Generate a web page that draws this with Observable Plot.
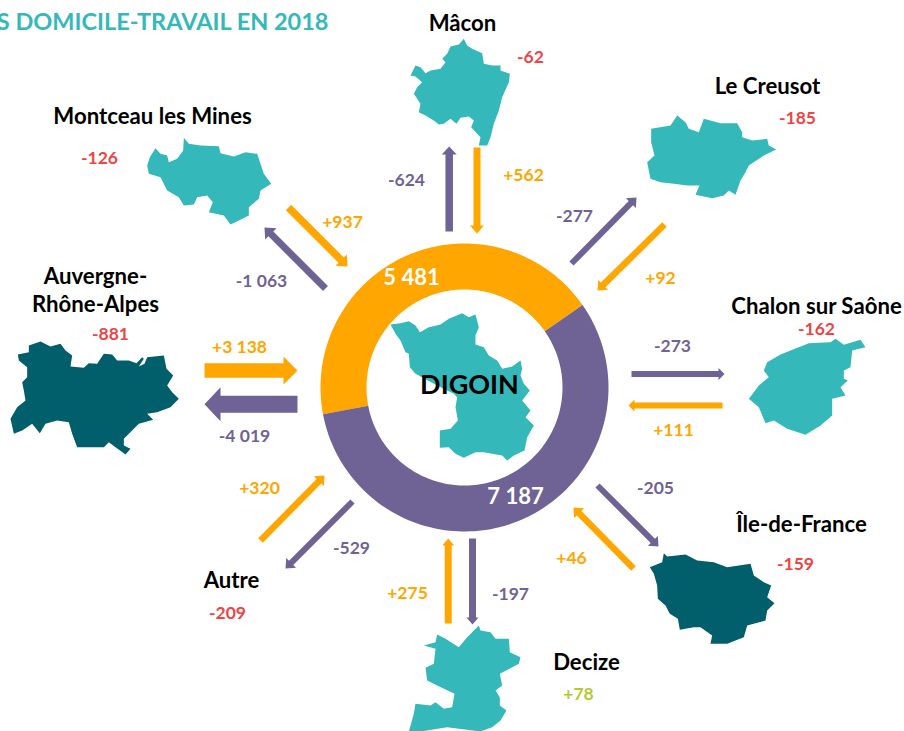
<!DOCTYPE html>
<html>
<head>
<meta charset="utf-8">
<script src="https://cdn.jsdelivr.net/npm/d3@7"></script>
<script src="https://cdn.jsdelivr.net/npm/@observablehq/plot@0.6"></script>
<style>
html,body{margin:0;padding:0;background:#fff;overflow:hidden}
svg{display:block}
</style>
</head>
<body>
<div id="chart"></div>
<script>
// ---- data ----
const titleText = "S DOMICILE-TRAVAIL EN 2018";
const centre = "DIGOIN";
const totalsLabel = ["arrivals", "departures"];
const totals = [5481, 7187];
const places = ["Mâcon", "Le Creusot", "Chalon sur Saône", "Île-de-France", "Decize", "Autre", "Auvergne-Rhône-Alpes", "Montceau les Mines"];
const arrivals = [562, 92, 111, 46, 275, 320, 3138, 937];
const departures = [-624, -277, -273, -205, -197, -529, -4019, -1063];
const balance = [-62, -185, -162, -159, 78, -209, -881, -126];

// ---- layout (pixel frame of the diagram, same order as places) ----
const nameLines = [["Mâcon"], ["Le Creusot"], ["Chalon sur Saône"], ["Île-de-France"], ["Decize"], ["Autre"], ["Auvergne-", "Rhône-Alpes"], ["Montceau les Mines"]];
const namePos = [[462,23], [767,86], [816,306], [801,524], [586,662], [231,580], [95,276], [152,116]];
const balancePos = [[530,57], [797,118], [816,329], [795,564], [578,694], [227,613], [110,334], [99,158]];
const arrivalPos = [[523,175], [660,278], [673,430], [571,558], [407,593], [259,488], [239,347], [342,222]];
const departurePos = [[406,180], [574,216], [672,346], [655,488], [510,594], [351,548], [244,436], [261,281]];
// tail x, tail y, tip x, tip y, shaft, head width, head length
const arrivalArrows = [
  [476.5,147,476.5,233,7,14,8], [664,224,597,290,6.5,14,8], [722,405,628,405,6,12,6],
  [633,568,573,507,6.5,14,8], [447.7,623,447.7,538,7,12,7], [260,540,324,475,6.5,14,8],
  [204,370,297,370,14.7,28,14], [288,207,347,266,7.5,16,9]];
const departureArrows = [
  [448.7,231,448.7,146,7.5,15,8], [571,263,636,197,6,14,8], [631,373.5,724,373.5,6,12,6],
  [597,485,658,546,6,14,8], [472,538,472,624,7,12,7], [352,501,285,568,6,14,8],
  [297,403.7,204,403.7,17,34,16], [325,288,264,227,7,16,9]];

const pct = (ox, oy, pts) => pts.map(([x, y]) => [ox + x / 3, oy + y / 3]);
const shapes = [
 {fill:"#34B8B9", pts:pct(300,220,[[270,312],[300,308],[325,302],[345,315],[358,335],[385,320],[420,312],[445,295],[485,278],[505,290],[525,282],[535,320],[525,345],[525,372],[550,380],[565,405],[590,420],[605,445],[635,438],[660,420],[665,445],[660,465],[670,490],[688,510],[665,540],[690,570],[675,590],[700,615],[680,650],[672,690],[640,705],[620,720],[605,705],[575,700],[550,695],[525,695],[490,712],[465,700],[445,680],[418,682],[418,630],[450,625],[472,600],[465,560],[470,530],[460,520],[400,490],[345,460],[328,440],[325,400],[315,395],[300,360],[285,340]])},
 {fill:"#34B8B9", pts:pct(0,0,[[440,495],[448,470],[465,443],[480,460],[500,465],[505,485],[530,475],[548,450],[550,412],[565,430],[600,435],[655,437],[660,458],[700,468],[735,455],[770,460],[780,490],[790,520],[812,550],[780,570],[775,595],[745,620],[745,645],[715,660],[690,672],[670,645],[625,635],[637,605],[620,585],[590,590],[580,612],[550,615],[535,590],[500,570],[480,530],[445,520]])},
 {fill:"#34B8B9", pts:pct(400,40,[[30,105],[45,75],[60,80],[75,98],[90,90],[120,85],[135,65],[125,55],[140,40],[150,18],[175,12],[190,-5],[200,15],[215,25],[245,38],[250,70],[275,75],[300,75],[300,90],[328,100],[325,125],[305,170],[295,210],[280,250],[270,290],[260,315],[235,315],[240,290],[212,260],[220,240],[205,228],[180,232],[168,250],[150,235],[130,250],[115,252],[100,240],[75,225],[55,215],[60,190],[40,160],[50,140],[65,125],[45,108]])},
 {fill:"#34B8B9", pts:pct(630,100,[[62,85],[120,75],[140,45],[165,65],[175,85],[205,95],[220,55],[270,68],[320,68],[335,95],[335,110],[365,120],[410,115],[415,135],[437,147],[400,165],[355,195],[345,215],[330,240],[315,283],[295,270],[280,285],[245,293],[195,283],[207,255],[170,255],[130,250],[90,245],[60,235],[50,185],[72,165],[62,125]])},
 {fill:"#34B8B9", pts:pct(630,100,[[355,895],[370,875],[385,855],[415,830],[400,810],[410,785],[450,762],[480,750],[535,728],[600,725],[615,715],[640,733],[690,718],[705,740],[665,750],[660,800],[640,810],[640,835],[652,840],[630,860],[645,885],[605,895],[605,945],[570,975],[525,1003],[470,985],[430,960],[405,968],[385,920]])},
 {fill:"#005F6B", pts:pct(400,530,[[748,110],[785,95],[790,68],[800,78],[855,72],[890,90],[940,95],[980,110],[1050,100],[1060,135],[1090,155],[1112,165],[1100,200],[1122,218],[1100,240],[1095,270],[1040,285],[1030,320],[980,340],[930,340],[935,315],[900,290],[880,290],[838,298],[832,265],[808,250],[795,225],[772,205],[770,165],[760,130]])},
 {fill:"#34B8B9", pts:pct(400,530,[[70,345],[105,335],[110,312],[135,325],[175,350],[200,320],[235,285],[240,300],[270,305],[285,325],[325,325],[328,365],[360,380],[355,400],[298,430],[305,465],[285,480],[298,500],[298,525],[318,540],[300,570],[275,590],[240,603],[140,590],[60,603],[25,603],[40,550],[45,520],[90,525],[105,515],[130,535],[155,530],[162,490],[110,465],[80,450],[75,412],[100,400],[105,355]])},
 {fill:"#005F6B", pts:pct(0,330,[[52,72],[85,65],[85,45],[120,33],[150,48],[180,40],[195,60],[215,75],[210,108],[250,112],[265,98],[290,100],[310,70],[335,72],[350,90],[385,90],[408,98],[425,80],[430,85],[415,108],[432,100],[440,80],[490,75],[498,115],[518,135],[500,165],[515,185],[535,205],[510,230],[470,245],[440,250],[458,268],[415,280],[385,310],[370,325],[370,345],[390,355],[375,372],[345,350],[325,335],[310,350],[260,350],[230,350],[215,310],[205,275],[170,270],[135,280],[118,308],[95,280],[65,300],[40,310],[30,265],[50,230],[75,210],[70,180],[65,155],[80,140],[80,110],[55,90]])}
];

// ---- colours / geometry ----
const ORANGE = "#FFA600", PURPLE = "#6F6396", RED = "#EE4444", GREEN = "#B5C933", TEAL = "#34B8B9";
const FONT = "Lato, Carlito, Calibri, sans-serif";
const cx = 464, cy = 387, R = 144, r = 98;
const startDeg = 259.3;

const frNum = d3.formatLocale({decimal:",", thousands:" ", grouping:[3], currency:["","€"], minus:"-"}).format(",d");
const signed = v => (v > 0 ? "+" : "-") + frNum(Math.abs(v));

// donut slices follow the totals through d3.pie
const pie = d3.pie().sort(null).startAngle(startDeg * Math.PI / 180).endAngle((startDeg + 360) * Math.PI / 180)(totals);
function ring(s) {
  const n = 120, out = [], inn = [];
  for (let i = 0; i <= n; i++) {
    const a = s.startAngle + (s.endAngle - s.startAngle) * i / n;
    out.push([cx + R * Math.sin(a), cy - R * Math.cos(a)]);
    inn.push([cx + r * Math.sin(a), cy - r * Math.cos(a)]);
  }
  return out.concat(inn.reverse());
}
function arrow([x0, y0, x1, y1, w, hw, hl]) {
  const L = Math.hypot(x1 - x0, y1 - y0), ux = (x1 - x0) / L, uy = (y1 - y0) / L, nx = -uy, ny = ux;
  const bx = x1 - ux * hl, by = y1 - uy * hl;
  return [
    [x0 + nx * w / 2, y0 + ny * w / 2], [bx + nx * w / 2, by + ny * w / 2], [bx + nx * hw / 2, by + ny * hw / 2],
    [x1, y1],
    [bx - nx * hw / 2, by - ny * hw / 2], [bx - nx * w / 2, by - ny * w / 2], [x0 - nx * w / 2, y0 - ny * w / 2]
  ];
}
const poly = (pts, fill) => Plot.line(pts, {x: d => d[0], y: d => d[1], fill, stroke: "none", curve: "linear-closed"});

const texts = [];
const add = (text, [x, y], fill, size = 17.5, anchor = "middle") => texts.push({text, x, y, fill, size, anchor});
places.forEach((p, i) => {
  nameLines[i].forEach((l, k) => add(l, [namePos[i][0], namePos[i][1] + k * 28], "#000", 22.2));
  add(signed(balance[i]), balancePos[i], balance[i] < 0 ? RED : GREEN);
  add(signed(arrivals[i]), arrivalPos[i], ORANGE);
  add(signed(departures[i]), departurePos[i], PURPLE);
});
add(frNum(totals[0]), [411,277], "#fff", 22);
add(frNum(totals[1]), [515,496], "#fff", 22);
add(centre, [469,385], "#000", 27);
add(titleText, [328,22], TEAL, 23.5, "end");

const sizes = [...new Set(texts.map(t => t.size + "|" + t.anchor))];
const chart = Plot.plot({
  width: 904, height: 731,
  margin: 0, marginTop: 0, marginRight: 0, marginBottom: 0, marginLeft: 0,
  x: {domain: [0, 904], range: [0, 904], axis: null},
  y: {domain: [0, 731], range: [0, 731], axis: null},
  style: {background: "#fff", fontFamily: FONT},
  marks: [
    poly(ring(pie[0]), ORANGE),
    poly(ring(pie[1]), PURPLE),
    ...shapes.map(s => poly(s.pts, s.fill)),
    ...arrivalArrows.map(a => poly(arrow(a), ORANGE)),
    ...departureArrows.map(a => poly(arrow(a), PURPLE)),
    ...sizes.map(k => {
      const [size, anchor] = k.split("|");
      return Plot.text(texts.filter(t => t.size == size && t.anchor == anchor), {
        x: "x", y: "y", text: "text", fill: "fill",
        fontSize: +size, fontWeight: 700, fontFamily: FONT,
        textAnchor: anchor, lineAnchor: "middle"
      });
    })
  ]
});
document.getElementById("chart").appendChild(chart);
</script>
</body>
</html>
